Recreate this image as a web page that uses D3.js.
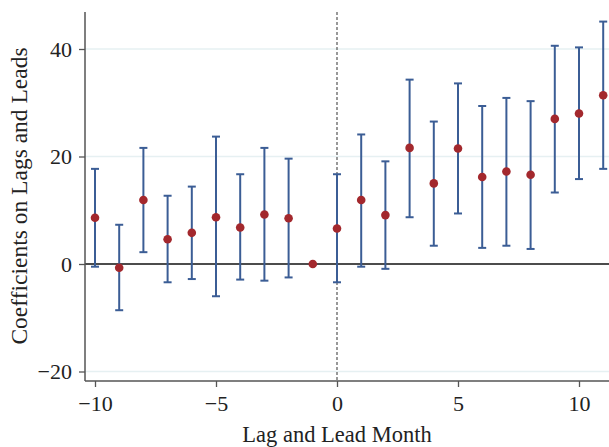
<!DOCTYPE html>
<html><head><meta charset="utf-8">
<script src="https://cdn.jsdelivr.net/npm/d3@7"></script>
<style>body{margin:0;background:#fff}svg{display:block}</style>
</head><body><svg id="c" width="609" height="447"></svg>
<script>
const months = [-10,-9,-8,-7,-6,-5,-4,-3,-2,-1,0,1,2,3,4,5,6,7,8,9,10,11];
const coef   = [8.6,-0.7,11.9,4.6,5.8,8.7,6.8,9.2,8.5,0,6.6,11.9,9.1,21.6,15.0,21.5,16.2,17.2,16.6,27.0,28.0,31.4];
const upper  = [17.7,7.3,21.6,12.7,14.4,23.7,16.7,21.6,19.6,null,16.7,24.1,19.1,34.3,26.5,33.6,29.4,30.9,30.3,40.6,40.3,45.1];
const lower  = [-0.5,-8.6,2.2,-3.4,-2.8,-6.0,-2.9,-3.1,-2.5,null,-3.4,-0.5,-0.9,8.7,3.4,9.4,3.0,3.4,2.8,13.3,15.8,17.7];
const xTicks = [-10,-5,0,5,10];
const yTicks = [-20,0,20,40];
const xLabel = "Lag and Lead Month";
const yLabel = "Coefficients on Lags and Leads";

const svg = d3.select("#c");
const L = 85, R = 609, T = 12, B = 381;
const x = d3.scaleLinear().domain([-10, 0]).range([95, 337]);
const y = d3.scaleLinear().domain([0, 40]).range([264, 49]);
const font = "'Liberation Serif','Times New Roman',serif";

// grid
svg.append("g").selectAll("line").data(yTicks.filter(d => d !== 0)).join("line")
  .attr("x1", L).attr("x2", R).attr("y1", d => y(d)).attr("y2", d => y(d))
  .attr("stroke", "#e6f0f2").attr("stroke-width", 1.5);

// zero line
svg.append("line").attr("x1", L).attr("x2", R).attr("y1", y(0)).attr("y2", y(0))
  .attr("stroke", "#111").attr("stroke-width", 1.5);

// vertical dashed at 0
svg.append("line").attr("x1", x(0)).attr("x2", x(0)).attr("y1", T).attr("y2", B)
  .attr("stroke", "#555").attr("stroke-width", 1.2).attr("stroke-dasharray", "3,2");

const fmt = d => d < 0 ? "\u2212" + Math.abs(d) : d;

// axes
const gx = svg.append("g").attr("transform", `translate(0,${B})`)
  .call(d3.axisBottom(x).tickValues(xTicks).tickSize(6).tickPadding(8).tickFormat(fmt));
gx.select(".domain").remove();
svg.append("line").attr("x1", L).attr("x2", R).attr("y1", B).attr("y2", B).attr("stroke", "#555").attr("stroke-width", 1.5);
gx.selectAll(".tick line").attr("stroke", "#555").attr("stroke-width", 1.3);
gx.selectAll("text").attr("font-family", font).attr("font-size", 22).attr("fill", "#222");

const gy = svg.append("g").attr("transform", `translate(${L},0)`)
  .call(d3.axisLeft(y).tickValues(yTicks).tickSize(6).tickPadding(7).tickFormat(fmt));
gy.select(".domain").remove();
svg.append("line").attr("x1", L).attr("x2", L).attr("y1", T).attr("y2", B).attr("stroke", "#555").attr("stroke-width", 1.5);
gy.selectAll(".tick line").attr("stroke", "#555").attr("stroke-width", 1.3);
gy.selectAll("text").attr("font-family", font).attr("font-size", 22).attr("fill", "#222");

// error bars
const data = months.map((m, i) => ({m, c: coef[i], u: upper[i], l: lower[i]}));
const eb = svg.append("g").attr("stroke", "#3b5d95").attr("stroke-width", 2);
const ci = data.filter(d => d.u !== null);
eb.selectAll(".v").data(ci).join("line")
  .attr("x1", d => x(d.m)).attr("x2", d => x(d.m)).attr("y1", d => y(d.u)).attr("y2", d => y(d.l));
eb.selectAll(".t").data(ci).join("line")
  .attr("x1", d => x(d.m) - 4).attr("x2", d => x(d.m) + 4).attr("y1", d => y(d.u)).attr("y2", d => y(d.u));
eb.selectAll(".b").data(ci).join("line")
  .attr("x1", d => x(d.m) - 4).attr("x2", d => x(d.m) + 4).attr("y1", d => y(d.l)).attr("y2", d => y(d.l));

// points
svg.append("g").selectAll("circle").data(data).join("circle")
  .attr("cx", d => x(d.m)).attr("cy", d => y(d.c)).attr("r", 4.3).attr("fill", "#a3282d");

// labels
svg.append("text").attr("x", 337).attr("y", 442).attr("text-anchor", "middle")
  .attr("font-family", font).attr("font-size", 22.5).attr("fill", "#222").text(xLabel);
svg.append("text").attr("transform", "translate(27,196) rotate(-90)").attr("text-anchor", "middle")
  .attr("font-family", font).attr("font-size", 23.5).attr("fill", "#222").text(yLabel);
</script></body></html>
